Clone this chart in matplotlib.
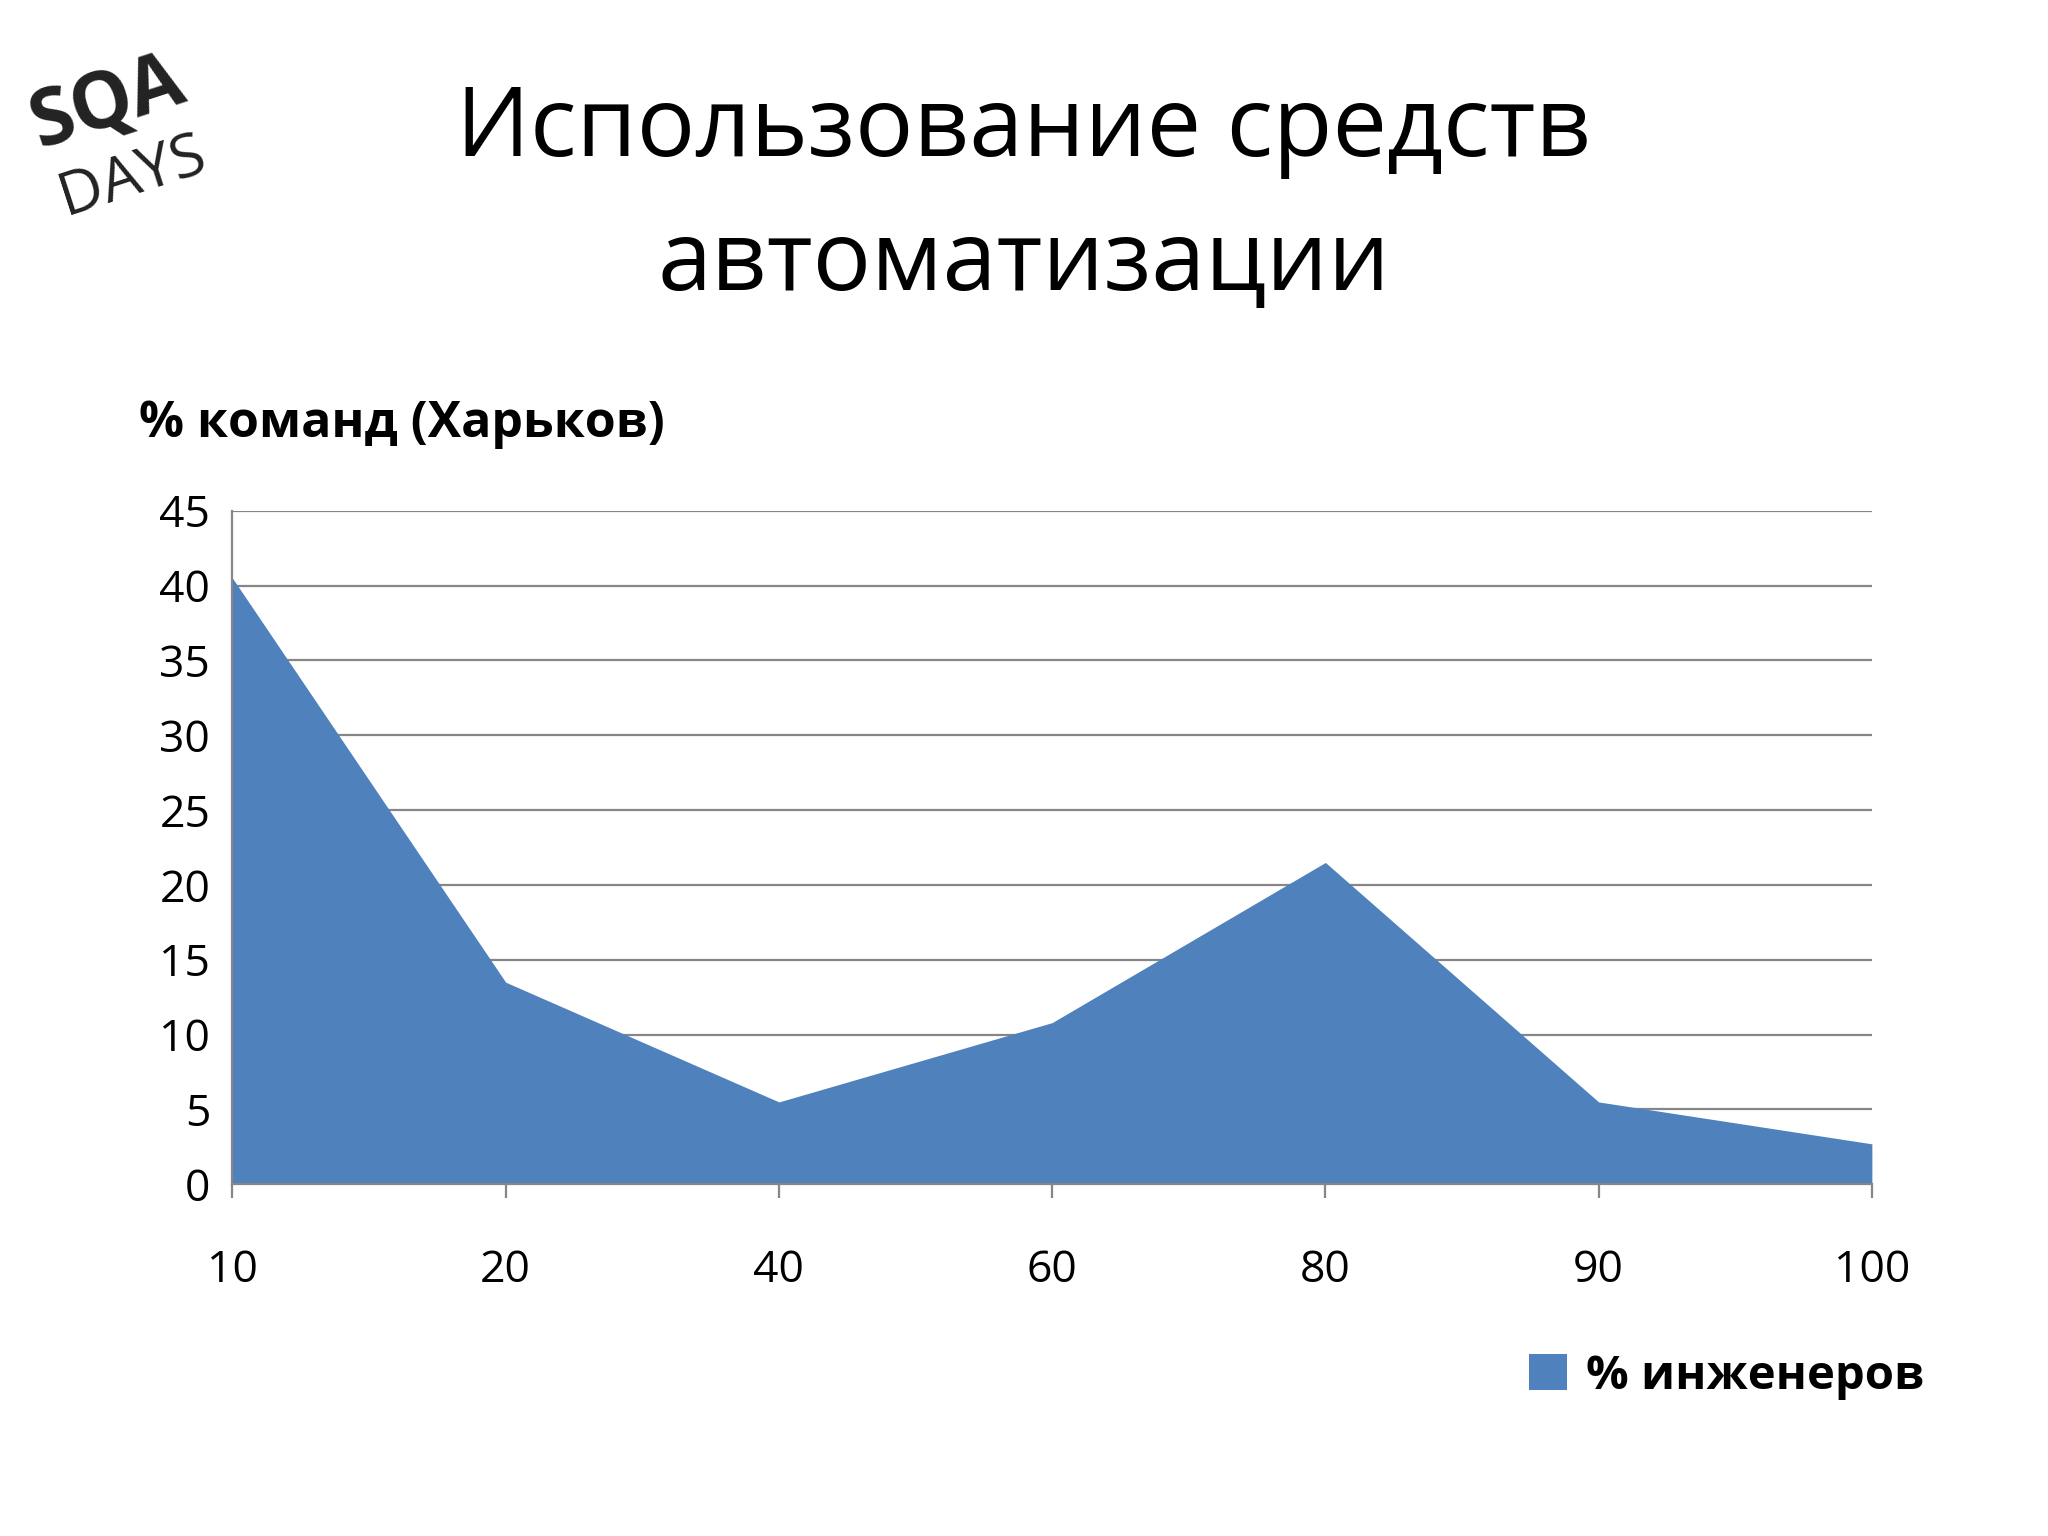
import matplotlib.pyplot as plt
import numpy as np

plt.rcParams['font.family'] = ['Open Sans', 'DejaVu Sans']

categories = ['10', '20', '40', '60', '80', '90', '100']
engineers = [40.5, 13.5, 5.5, 10.8, 21.5, 5.5, 2.7]

fig = plt.figure(figsize=(10.24, 7.68), dpi=200)
ax = fig.add_axes([0.1135, 0.229, 0.8005, 0.4385])

x = np.arange(len(categories))
ax.fill_between(x, engineers, 0, color='#4f81bd', linewidth=0, label='% инженеров')

ax.set_xlim(0, len(categories) - 1)
ax.set_ylim(0, 45)
ax.set_yticks(range(0, 46, 5))
ax.set_xticks(x)
ax.set_xticklabels(categories)
ax.grid(axis='y', color='#868686', linewidth=0.8)
ax.set_axisbelow(True)
for s in ['top', 'right']:
    ax.spines[s].set_visible(False)
ax.spines['left'].set_color('#868686')
ax.spines['bottom'].set_color('#868686')
ax.tick_params(axis='y', length=0, labelsize=16, pad=8)
ax.tick_params(axis='x', length=5, color='#868686', labelsize=16, pad=18)

fig.text(0.5, 0.915, 'Использование средств', ha='center', va='center', fontsize=35)
fig.text(0.5, 0.828, 'автоматизации', ha='center', va='center', fontsize=35)
fig.text(0.068, 0.724, '% команд (Харьков)', ha='left', va='center', fontsize=18, fontweight='bold')

ax.legend(loc='center left', bbox_to_anchor=(0.765, -0.285), frameon=False,
          prop={'size': 17, 'weight': 'bold'}, handlelength=0.8, handleheight=0.8,
          handletextpad=0.4)

# logo
fig.text(0.01, 0.905, 'SQA', fontsize=28, rotation=18, color='#222222', fontweight='bold')
fig.text(0.025, 0.86, 'DAYS', fontsize=22, rotation=18, color='#222222')

fig.savefig('out.png', dpi=200, facecolor='white')
